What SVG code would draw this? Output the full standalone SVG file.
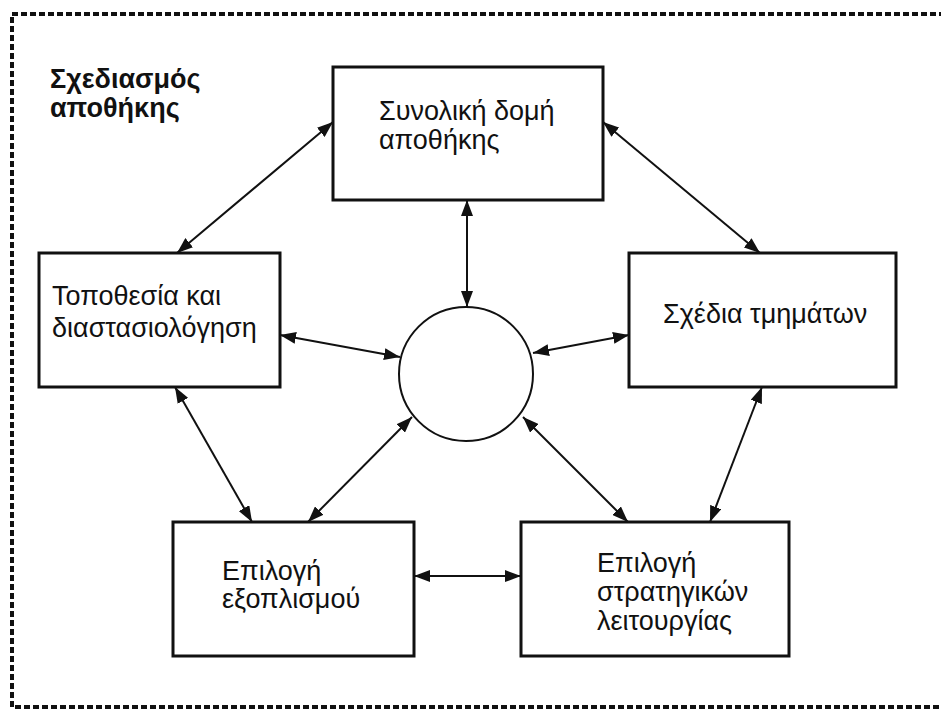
<svg xmlns="http://www.w3.org/2000/svg" width="941" height="709" viewBox="0 0 941 709">
  <style>
    .box { fill: #fff; stroke: #111; stroke-width: 3; }
    .hub { fill: #fff; stroke: #111; stroke-width: 2; }
    .lbl { font-family: "Liberation Sans", Arial, sans-serif; font-size: 27px; fill: #111; }
    .title { font-family: "Liberation Sans", Arial, sans-serif; font-size: 27px; font-weight: bold; fill: #111; }
    .link { stroke: #111; stroke-width: 2; fill: none; marker-start: url(#tip); marker-end: url(#tip); }
  </style>
  <defs>
    <marker id="tip" markerUnits="userSpaceOnUse" markerWidth="17" markerHeight="12" refX="16" refY="6" orient="auto-start-reverse">
      <path d="M0,0 L16,6 L0,12 Z" fill="#111"/>
    </marker>
  </defs>
  <rect width="941" height="709" fill="#fff"/>

  <!-- dotted frame, running off the right edge -->
  <rect x="12" y="14" width="945" height="693" fill="none" stroke="#111" stroke-width="4" stroke-dasharray="6 3"/>

  <g id="title">
    <text class="title" x="50" y="88">Σχεδιασμός</text>
    <text class="title" x="50" y="117">αποθήκης</text>
  </g>

  <g id="connectors">
    <line class="link" x1="333" y1="122" x2="177" y2="253"/>
    <line class="link" x1="603" y1="122" x2="760" y2="253"/>
    <line class="link" x1="467" y1="200" x2="467" y2="307"/>
    <line class="link" x1="280" y1="335" x2="400" y2="357"/>
    <line class="link" x1="629" y1="335" x2="533" y2="353"/>
    <line class="link" x1="412" y1="417" x2="308" y2="522"/>
    <line class="link" x1="523" y1="417" x2="628" y2="522"/>
    <line class="link" x1="175" y1="387" x2="252" y2="522"/>
    <line class="link" x1="762" y1="387" x2="710" y2="522"/>
    <line class="link" x1="414" y1="576" x2="521" y2="576"/>
  </g>

  <g id="structure">
    <rect class="box" x="333" y="67" width="270" height="133"/>
    <text class="lbl" x="379" y="120">Συνολική δομή</text>
    <text class="lbl" x="379" y="149">αποθήκης</text>
  </g>

  <g id="location">
    <rect class="box" x="39" y="253" width="241" height="134"/>
    <text class="lbl" x="52" y="305">Τοποθεσία και</text>
    <text class="lbl" x="52" y="337">διαστασιολόγηση</text>
  </g>

  <g id="layouts">
    <rect class="box" x="629" y="253" width="267" height="134"/>
    <text class="lbl" x="663" y="323">Σχέδια τμημάτων</text>
  </g>

  <g id="equipment">
    <rect class="box" x="173" y="522" width="241" height="134"/>
    <text class="lbl" x="222" y="580">Επιλογή</text>
    <text class="lbl" x="222" y="608">εξοπλισμού</text>
  </g>

  <g id="strategy">
    <rect class="box" x="521" y="522" width="268" height="134"/>
    <text class="lbl" x="597" y="572">Επιλογή</text>
    <text class="lbl" x="597" y="601">στρατηγικών</text>
    <text class="lbl" x="597" y="630">λειτουργίας</text>
  </g>

  <g id="hub">
    <circle class="hub" cx="466" cy="374" r="67"/>
  </g>
</svg>
